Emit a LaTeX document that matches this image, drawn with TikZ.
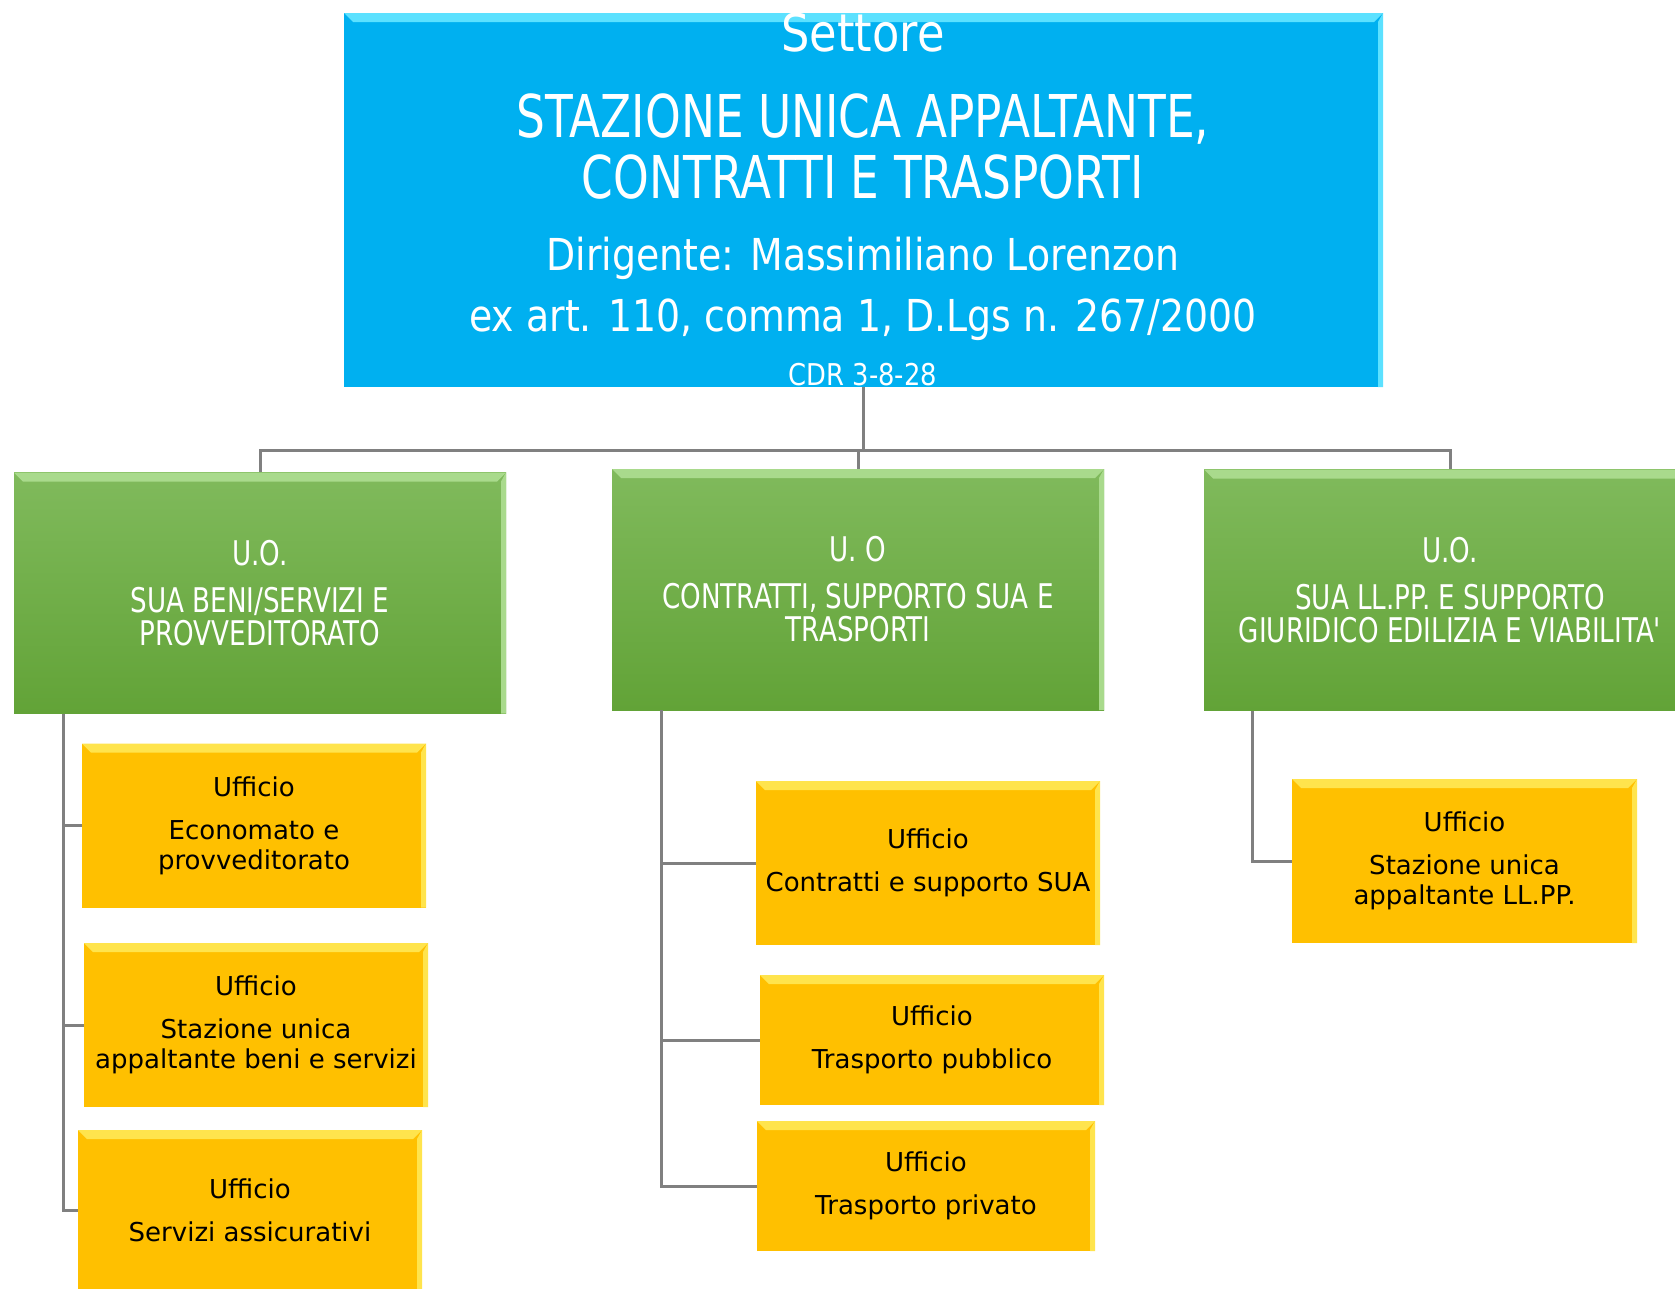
\documentclass[tikz,border=0pt]{standalone}
\usepackage{fontspec}
\setmainfont{DejaVu Sans}
\newfontfamily\capsfont{DejaVu Sans}[FakeStretch=0.77]
\newfontfamily\narrowfont{DejaVu Sans}[FakeStretch=0.86]
\usetikzlibrary{positioning}
\definecolor{settoreblue}{HTML}{00B0F0}
\definecolor{settorelight}{HTML}{5CE1FF}
\definecolor{uotop}{HTML}{80BA5C}
\definecolor{uobottom}{HTML}{62A337}
\definecolor{uolight}{HTML}{A9DA8C}
\definecolor{ufficiofill}{HTML}{FFC000}
\definecolor{ufficiolight}{HTML}{FFE44D}
\definecolor{linkgray}{HTML}{808080}
\tikzset{
  bevel/.style={path picture={
    \fill[#1] (path picture bounding box.north west) -- (path picture bounding box.north east)
      -- ([shift={(-9pt,-9pt)}]path picture bounding box.north east)
      -- ([shift={(9pt,-9pt)}]path picture bounding box.north west) -- cycle;
    \fill[#1] (path picture bounding box.north east) -- (path picture bounding box.south east)
      -- ([shift={(-5pt,0pt)}]path picture bounding box.south east)
      -- ([shift={(-5pt,-9pt)}]path picture bounding box.north east) -- cycle;}},
  settore/.style={fill=settoreblue, bevel=settorelight, inner sep=0pt},
  head/.style={anchor=base, text=white, inner sep=0pt},
  uo/.style={top color=uotop, bottom color=uobottom, bevel=uolight, text=white,
    font=\capsfont\fontsize{34}{33}\selectfont, align=center,
    minimum width=492pt, minimum height=241pt, inner sep=0pt},
  ufficio/.style={fill=ufficiofill, bevel=ufficiolight, align=center,
    font=\fontsize{26}{30}\selectfont, minimum width=344pt, minimum height=164pt, inner sep=0pt},
  link/.style={draw=linkgray, line width=3pt},
}
\begin{document}
\begin{tikzpicture}[x=1pt,y=-1pt]
\clip (0,0) rectangle (1675,1288);
\fill[white] (0,0) rectangle (1675,1288);

\node[settore, minimum width=1039pt, minimum height=374pt] (settore) at (863.5,200) {};
\node[head, font=\narrowfont\fontsize{52}{52}\selectfont] (titolo) at (863,51) {Settore};
\node[head, font=\capsfont\fontsize{59}{59}\selectfont] (nome1) at (863,137) {STAZIONE UNICA APPALTANTE,};
\node[head, font=\capsfont\fontsize{59}{59}\selectfont] (nome2) at (863,198) {CONTRATTI E TRASPORTI};
\node[head, font=\narrowfont\fontsize{44}{44}\selectfont] (dirigente) at (863,270) {Dirigente: Massimiliano Lorenzon};
\node[head, font=\narrowfont\fontsize{44}{44}\selectfont] (norma) at (863,331) {ex art. 110, comma 1, D.Lgs n. 267/2000};
\node[head, font=\narrowfont\fontsize{30}{30}\selectfont] (cdr) at (863,385) {CDR 3-8-28};

\node[uo] (uo1) at (260,593) {U.O.\\[14pt]SUA BENI/SERVIZI E\\PROVVEDITORATO};
\node[uo] (uo2) at (858,589.5) {U. O\\[14pt]CONTRATTI, SUPPORTO SUA E\\TRASPORTI};
\node[uo] (uo3) at (1450,590) {U.O.\\[14pt]SUA LL.PP. E SUPPORTO\\GIURIDICO EDILIZIA E VIABILITA'};

\node[ufficio] (uf1) at (254,825.5) {Ufficio\\[13pt]Economato e\\provveditorato};
\node[ufficio] (uf2) at (256,1025) {Ufficio\\[13pt]Stazione unica\\appaltante beni e servizi};
\node[ufficio, minimum height=160pt] (uf3) at (250,1210) {Ufficio\\[13pt]Servizi assicurativi};
\node[ufficio] (uf4) at (928,863) {Ufficio\\[13pt]Contratti e supporto SUA};
\node[ufficio, minimum height=130pt] (uf5) at (932,1040) {Ufficio\\[13pt]Trasporto pubblico};
\node[ufficio, minimum width=338pt, minimum height=130pt] (uf6) at (926,1186) {Ufficio\\[13pt]Trasporto privato};
\node[ufficio, minimum width=345pt] (uf7) at (1464.5,861) {Ufficio\\[13pt]Stazione unica\\appaltante LL.PP.};

\foreach \u in {uo1,uo2,uo3}
  \draw[link] (settore.south) -- ++(0,63) -| (\u.north);
\foreach \u in {uf1,uf2,uf3}
  \draw[link] ([xshift=50pt]uo1.south west) |- (\u.west);
\foreach \u in {uf4,uf5,uf6}
  \draw[link] ([xshift=50pt]uo2.south west) |- (\u.west);
\draw[link] ([xshift=49pt]uo3.south west) |- (uf7.west);
\end{tikzpicture}
\end{document}
